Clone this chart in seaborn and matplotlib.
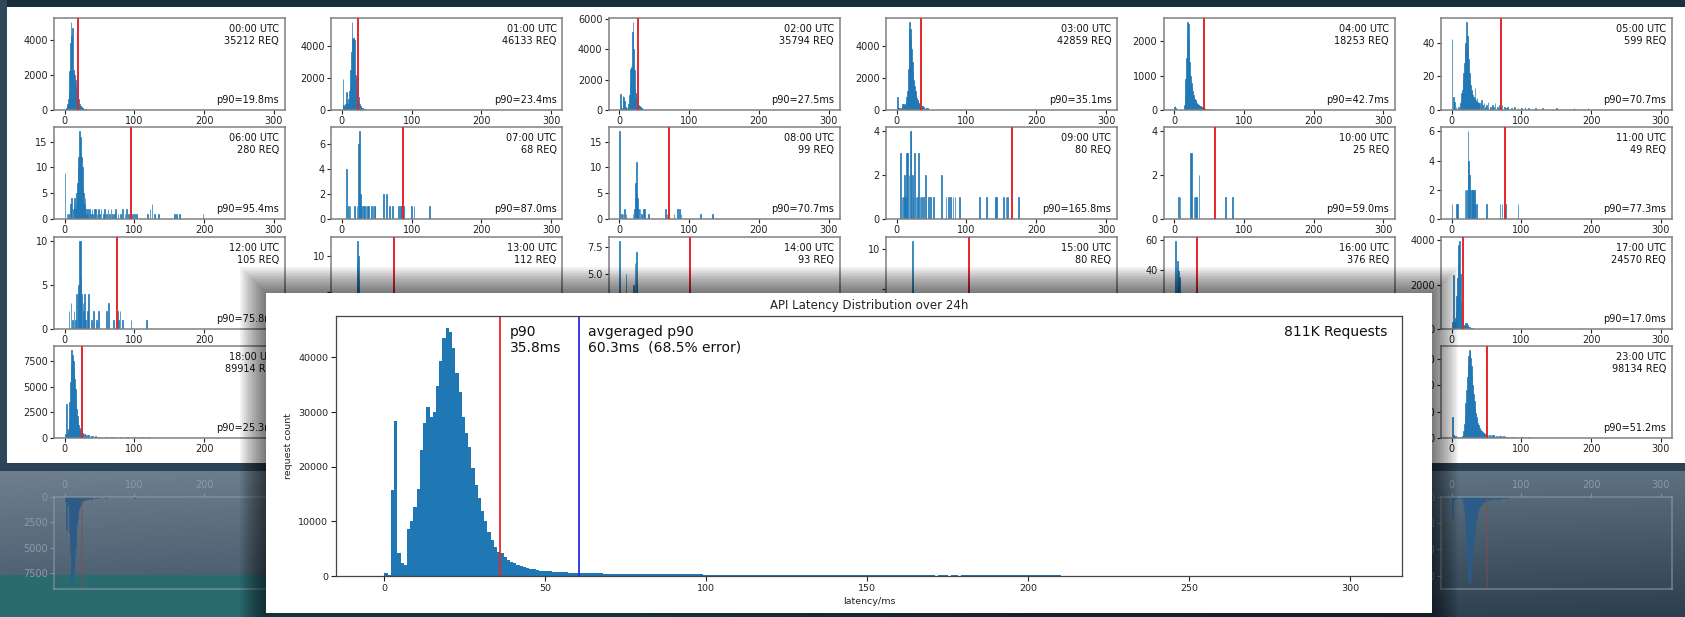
import numpy as np
import pandas as pd
import matplotlib
matplotlib.use("Agg")
import matplotlib.pyplot as plt
from matplotlib.patches import Rectangle
from matplotlib.ticker import MaxNLocator, FixedLocator
import seaborn as sns

# ---------------------------------------------------------------- data
# hourly latency histograms: latency bin (ms) and request count per bin
H00_MS = [2,3,4,5,6,7,8,9,10,11,12,13,14,15,16,17,18,19,20,21,22,23,24,25,26,27,28,30]
H00_N = [100,200,350,600,1000,2200,3800,5000,4200,4700,2300,2100,2000,1700,1300,1200,1400,1500,600,350,250,200,150,120,100,80,60,40]
H01_MS = [1,2,3,4,5,6,7,8,9,10,11,12,13,14,15,16,17,18,19,20,21,22,23,24,25,26,27,28,29,30,32]
H01_N = [1950,300,200,250,400,1100,500,400,700,1200,1500,2500,3600,5480,4500,4450,4550,4400,2200,2000,1500,1100,800,500,350,250,180,130,100,80,50]
H02_MS = [1,2,3,5,6,7,8,9,10,12,13,14,15,16,17,18,19,20,21,22,23,24,25,26,27,28,29,30,31,32,33]
H02_N = [1050,300,150,900,850,600,200,150,100,150,400,1000,1800,2700,2800,5100,5750,4000,2600,1500,1100,800,600,450,350,280,220,170,130,100,80]
H03_MS = [1,2,4,6,8,9,10,11,12,13,14,15,16,17,18,19,20,21,22,23,24,25,26,27,28,29,30,31,32,33,34,35,36,38,40,42,44]
H03_N = [800,150,100,150,350,400,300,250,350,500,800,1200,2600,5100,5500,5100,4500,3800,3000,2400,1900,1500,1200,950,750,650,550,450,400,350,300,260,230,200,150,120,100]
H04_MS = [0,1,2,14,15,16,17,18,19,20,21,22,23,24,25,26,27,28,29,30,31,32,33,34,35,36,37,38,39,40,42,44,46,50,54]
H04_N = [80,120,60,150,400,900,1500,2100,2550,2500,2000,1400,1000,800,650,550,450,380,320,280,240,200,180,160,140,120,110,100,90,80,60,50,40,30,20]
H05_MS = [0,2,3,4,6,10,12,13,14,15,16,17,18,19,20,21,22,23,24,25,26,27,28,29,30,31,32,33,34,35,36,37,38,39,40,42,44,46,48,50,52,55,58,60,62,65,68,70,72,75,78,80,85,90,95,100,105,110,120,130,150,175,195]
H05_N = [42,8,4,5,2,2,4,6,10,12,18,22,28,35,40,52,44,38,30,22,18,15,12,10,9,8,7,13,6,5,7,5,4,3,4,6,3,4,2,3,5,2,3,2,4,2,3,2,3,2,1,2,1,2,1,1,2,1,1,1,1,1,1]
H06_MS = [0,3,5,8,9,10,12,13,14,15,16,17,18,19,20,21,22,23,24,25,26,27,28,29,30,31,32,33,35,37,39,40,42,44,46,48,50,52,55,57,60,62,64,66,68,71,73,76,80,83,86,88,91,95,97,100,103,118,122,125,128,134,157,160,164,198]
H06_N = [9,1,1,3,2,4,2,3,4,2,3,5,7,10,12,17,16,13,12,10,6,5,3,4,2,1,2,1,2,1,2,1,2,2,1,2,1,2,1,2,1,2,1,2,1,1,2,1,1,2,1,2,1,2,1,1,1,1,2,3,1,1,1,1,1,1]
H07_MS = [6,9,11,18,21,23,25,26,27,28,30,32,34,36,38,42,44,46,47,59,63,68,72,81,83,85,87,88,99,103,125]
H07_N = [4,1,1,1,1,6,7,2,1,1,1,1,1,1,1,1,1,1,1,2,2,1,1,1,1,1,3,1,1,1,1]
H08_MS = [0,3,5,7,9,19,21,22,23,24,25,26,27,29,31,34,36,41,66,68,70,78,83,86,88,116,133]
H08_N = [17,1,1,2,1,1,2,4,7,11,5,4,2,2,1,2,2,1,2,1,2,1,2,2,1,1,1]
H09_MS = [5,7,9,11,12,14,15,17,19,20,22,23,25,27,29,31,33,35,38,41,45,48,52,64,70,74,77,80,83,90,118,128,141,143,153,156,158,174]
H09_N = [3,1,1,2,1,3,3,2,4,4,2,1,3,1,1,3,1,1,1,2,1,1,1,2,1,1,1,1,1,1,1,1,1,1,1,1,1,1]
H10_MS = [6,8,23,24,28,30,32,35,73,83]
H10_N = [1,1,3,3,1,1,1,2,1,1]
H11_MS = [0,7,8,19,21,23,24,25,26,28,30,31,32,33,35,50,69,72,75,77,95]
H11_N = [1,1,1,2,2,6,4,3,2,2,2,2,2,1,1,1,1,1,1,1,1]
H12_MS = [6,9,11,13,15,17,19,20,21,22,23,24,26,27,28,30,32,34,38,41,45,48,60,63,70,75,77,79,83,95,117]
H12_N = [2,3,1,2,1,4,4,5,10,10,6,4,3,2,4,1,2,4,1,2,1,2,2,3,1,2,1,2,1,1,1]
H13_MS = [15,18,21,22,23,25,28,35,50,74,90]
H13_N = [2,3,9,12,10,3,2,1,1,2,1]
H14_MS = [0,9,20,22,24,25,30,45,60,102,130]
H14_N = [8,5,4,6,7,4,2,1,1,2,1]
H15_MS = [10,22,23,30,45,80,103,140]
H15_N = [2,11,5,3,1,1,2,1]
H16_MS = [2,4,6,7,8,10,12,15,20,25,30,35,50,80]
H16_N = [59,46,39,35,20,15,12,10,8,6,5,3,2,1]
H17_MS = [1,2,3,4,5,6,7,8,9,10,11,12,13,14,15,16,17,18,19,20,21,22,23,24,25,26,28,30]
H17_N = [300,2450,400,300,500,800,1500,2300,3000,3800,3950,2500,1200,700,450,300,200,150,200,250,250,200,150,100,80,60,40,30]
H18_MS = [1,2,3,4,5,6,7,8,9,10,11,12,13,14,15,16,17,18,19,20,21,22,23,24,25,26,28,30,32,34,36,38,40,44,48,52,56,60,65,70,80,90,95,100,105,110,115,120,125,130,135]
H18_N = [400,3300,800,500,900,1800,3500,5500,7200,8590,8100,7500,6800,5800,4800,3700,2800,2200,1700,1300,1000,800,650,550,450,400,350,300,280,250,220,200,180,160,140,120,100,90,80,70,60,60,80,90,80,70,60,60,50,40,30]
H23_MS = [1,2,3,5,8,12,15,16,17,18,19,20,21,22,23,24,25,26,27,28,29,30,31,32,33,34,35,36,37,38,39,40,41,42,43,44,45,46,47,48,50,52,54,56,58,60,62,64,66,68,70,72,74,76,78,80,85,90,95,100,105,110,115,120,125]
H23_N = [2000,300,200,150,100,100,150,300,700,1300,2200,3300,4500,5800,7000,7800,8300,8100,7600,6800,5900,5000,4200,3500,2900,2400,2000,1700,1400,1200,1000,900,800,700,600,550,500,450,420,400,350,320,300,280,260,250,230,210,200,190,180,170,160,150,140,120,80,60,60,50,60,50,40,30,20]

HOURS = ["00:00","01:00","02:00","03:00","04:00","05:00","06:00","07:00","08:00","09:00",
         "10:00","11:00","12:00","13:00","14:00","15:00","16:00","17:00","18:00","23:00"]
HOUR_REQ = [35212,46133,35794,42859,18253,599,280,68,99,80,25,49,105,112,93,80,376,24570,89914,98134]
HOUR_P90 = [19.8,23.4,27.5,35.1,42.7,70.7,95.4,87.0,70.7,165.8,59.0,77.3,75.8,75.0,102.0,103.5,33.0,17.0,25.3,51.2]
HOUR_MS = [H00_MS,H01_MS,H02_MS,H03_MS,H04_MS,H05_MS,H06_MS,H07_MS,H08_MS,H09_MS,
           H10_MS,H11_MS,H12_MS,H13_MS,H14_MS,H15_MS,H16_MS,H17_MS,H18_MS,H23_MS]
HOUR_N = [H00_N,H01_N,H02_N,H03_N,H04_N,H05_N,H06_N,H07_N,H08_N,H09_N,
          H10_N,H11_N,H12_N,H13_N,H14_N,H15_N,H16_N,H17_N,H18_N,H23_N]
# panels whose lower part lies under the overlaid 24h chart
COVERED = ["13:00", "14:00", "15:00", "16:00"]

# aggregated 24h distribution: request count per 1 ms bin, starting at 0 ms
BIG_N = [
    600, 100, 15700, 28300, 4200, 2300, 2000, 8600, 10000, 12700,
    16000, 23000, 28000, 31000, 29100, 30000, 34800, 39300, 43500, 45300,
    44700, 41800, 37200, 33600, 29000, 26200, 23600, 19800, 16600, 14200,
    11800, 10000, 8000, 6500, 5300, 4400, 4200, 3500, 3000, 2600,
    2300, 2000, 1800, 1600, 1450, 1300, 1200, 1100, 1000, 950,
    900, 850, 800, 760, 720, 690, 660, 630, 600, 580,
    560, 540, 520, 500, 490, 480, 470, 460, 450, 440,
    430, 420, 410, 400, 395, 390, 385, 380, 375, 370,
    365, 360, 355, 350, 345, 340, 335, 330, 325, 320,
    315, 310, 305, 300, 300, 290, 290, 280, 280, 270,
    270, 260, 260, 250, 250, 240, 240, 230, 230, 220,
    220, 210, 210, 200, 200, 190, 190, 180, 140, 120,
    130, 110, 125, 115, 130, 120, 110, 125, 115, 120,
    110, 130, 115, 105, 120, 110, 125, 115, 110, 120,
    105, 115, 110, 120, 100, 115, 110, 105, 115, 100,
    110, 105, 120, 100, 110, 105, 100, 115, 100, 110,
    95, 105, 100, 110, 95, 105, 100, 95, 105, 95,
    100, 90, 100, 95, 105, 90, 100, 95, 90, 100,
    95, 150, 160, 140, 170, 150, 160, 145, 165, 150,
    155, 170, 145, 160, 150, 165, 140, 155, 160, 145,
    170, 150, 155, 140, 160, 150, 145, 155, 140, 150,
    80, 40, 60, 0, 50, 40, 0, 30, 60, 0,
    40, 0, 30, 50, 0, 40,
]
BIG_P90 = 35.8
AVG_P90 = 60.3
AVG_ERR = 68.5
TOTAL_LABEL = "811K Requests"

# ---------------------------------------------------------------- style / layout
W, H = 1685, 617
BLUE = "#1f77b4"
RED = "#e8262b"
BIN_RANGE = (0, 301)
XLIM = (-15.05, 316.05)
COL_X0 = [54, 331.4, 608.8, 886.2, 1163.6, 1441]
ROW_Y0 = [18, 127, 237, 346]
AX_W, AX_H = 231, 92
YTOP_OVERRIDE = {"10:00": 4.2}
PX0, PY0, PX1, PY1 = 266, 293, 1432, 613   # overlaid panel, in pixels

sns.set_theme(style="ticks")
plt.rcParams["font.family"] = ["DejaVu Sans"]

fig = plt.figure(figsize=(W / 100, H / 100), dpi=100)


def px_axes(x0, y0, x1, y1, z):
    ax = fig.add_axes([x0 / W, 1 - y1 / H, (x1 - x0) / W, (y1 - y0) / H])
    ax.set_zorder(z)
    return ax


def hist(ax, ms, n, color, lw, alpha=1.0):
    df = pd.DataFrame({"latency": ms, "count": n})
    sns.histplot(data=df, x="latency", weights="count", binwidth=1, binrange=BIN_RANGE,
                 ax=ax, color=color, alpha=alpha, linewidth=lw, edgecolor=color)
    for p in ax.patches:
        if p.get_height() == 0:
            p.set_visible(False)
    ax.set_xlabel("")
    ax.set_ylabel("")


# ---------------------------------------------------------------- background
bg = px_axes(0, 0, W, H, -10)
bg.set_xlim(0, W)
bg.set_ylim(H, 0)
bg.axis("off")

def c(h):
    return np.array([int(h[i:i + 2], 16) for i in (1, 3, 5)]) / 255.0

img = np.zeros((H, W, 3))
ty = np.linspace(0, 1, H)[:, None, None]
img[:] = c("#1b2e3c") * (1 - ty) + c("#2b4353") * ty
img[:, :7] = c("#2e4859")
ys = np.arange(H)[:, None, None]
xs = np.linspace(0, 1, W)[None, :, None]
t = np.clip((ys - 471) / (617 - 471), 0, 1)
top = c("#6e808e") * (1 - xs) + c("#5d7181") * xs
bot = c("#44576a") * (1 - xs) + c("#2a3e4d") * xs
refl = top * (1 - t) + bot * t
mask = (ys >= 471)
img = np.where(mask, refl, img)
img[463:471, :] = c("#2b4354")
xpx = np.arange(W)[None, :, None]
teal_m = np.clip((1000 - xpx) / 400, 0, 1) * (ys >= 575)
img = img * (1 - teal_m) + c("#2a6b70") * teal_m
bg.imshow(img, extent=(0, W, H, 0), aspect="auto", zorder=0, interpolation="bilinear")
bg.add_patch(Rectangle((7, 7), W - 7, 456, facecolor="white", edgecolor="none", zorder=1))

# ---------------------------------------------------------------- small multiples
for hour, ms, n, req, p90 in zip(HOURS, HOUR_MS, HOUR_N, HOUR_REQ, HOUR_P90):
    idx = int(hour[:2])
    row, col = idx // 6, idx % 6
    x0, y0 = COL_X0[col], ROW_Y0[row]
    ax = px_axes(x0, y0, x0 + AX_W, y0 + AX_H, 1)
    ax.set_facecolor("white")
    hist(ax, ms, n, BLUE, 0.5)
    ax.axvline(p90, color=RED, lw=1.4, zorder=3)
    ytop = YTOP_OVERRIDE.get(hour, max(n) * 1.05)
    ax.set_xlim(XLIM)
    ax.set_ylim(0, ytop)
    ax.xaxis.set_major_locator(FixedLocator([0, 100, 200, 300]))
    ax.yaxis.set_major_locator(MaxNLocator(nbins=4, steps=[1, 2, 2.5, 5, 10]))
    ax.tick_params(labelsize=7, length=3, width=0.8, pad=1.5, colors="#222222")
    for s in ax.spines.values():
        s.set_visible(True)
        s.set_color("#808080")
        s.set_linewidth(1.1)
    ax.text(0.975, 0.93, f"{hour} UTC\n{req} REQ", transform=ax.transAxes,
            ha="right", va="top", fontsize=7, linespacing=1.15, color="#111111")
    if hour in COVERED:
        # the lower part of these panels lies under the overlaid chart
        ax.tick_params(axis="x", labelbottom=False)
        y_cut = ytop * (1 - (PY0 - y0 - 4) / AX_H)
        for tk, loc in zip(ax.yaxis.get_major_ticks(), ax.yaxis.get_majorticklocs()):
            if loc < y_cut:
                tk.label1.set_visible(False)
    else:
        ax.text(0.975, 0.05, f"p90={p90:.1f}ms", transform=ax.transAxes,
                ha="right", va="bottom", fontsize=7, color="#111111")

# ---------------------------------------------------------------- reflection of the last row
MIRROR = 467.3
for hour in ["18:00", "23:00"]:
    i = HOURS.index(hour)
    col = int(hour[:2]) % 6
    x0 = COL_X0[col]
    y_top = 2 * MIRROR - (ROW_Y0[3] + AX_H)
    y_bot = 2 * MIRROR - ROW_Y0[3]
    rax = px_axes(x0, y_top, x0 + AX_W, y_bot, 0)
    rax.patch.set_alpha(0)
    hist(rax, HOUR_MS[i], HOUR_N[i], "#2c5b88", 0.5, alpha=0.7)
    rax.axvline(HOUR_P90[i], color="#8a4a4a", lw=1.2, alpha=0.5)
    rax.set_xlim(XLIM)
    rax.set_ylim(max(HOUR_N[i]) * 1.05, 0)
    rax.xaxis.tick_top()
    rax.xaxis.set_major_locator(FixedLocator([0, 100, 200, 300]))
    rax.yaxis.set_major_locator(MaxNLocator(nbins=4, steps=[1, 2, 2.5, 5, 10]))
    rax.tick_params(labelsize=7, length=3, width=0.6, pad=1.5, colors="#8d9aa5")
    for s in rax.spines.values():
        s.set_visible(True)
        s.set_color("#8d9aa5")
        s.set_alpha(0.6)

# ---------------------------------------------------------------- shadow + big panel
fg = px_axes(0, 0, W, H, 5)
fg.set_xlim(0, W)
fg.set_ylim(H, 0)
fg.axis("off")
for k in range(1, 14):
    d = 2 * k
    fg.add_patch(Rectangle((PX0 - d, PY0 - d), (PX1 - PX0) + 2 * d, (PY1 - PY0) + 2 * d,
                           facecolor="black", edgecolor="none", alpha=0.05, zorder=1))
fg.add_patch(Rectangle((PX0, PY0), PX1 - PX0, PY1 - PY0, facecolor="white",
                       edgecolor="none", zorder=2))

bax = px_axes(336, 316, 1402, 576, 6)
bax.set_facecolor("white")
big_ms = np.arange(len(BIG_N))
df_big = pd.DataFrame({"latency": big_ms, "count": BIG_N})
sns.histplot(data=df_big, x="latency", weights="count", binwidth=1, binrange=BIN_RANGE,
             ax=bax, color=BLUE, alpha=1.0, linewidth=0)
bax.axvline(BIG_P90, color=RED, lw=1.3)
bax.axvline(AVG_P90, color="#2a2af0", lw=1.3)
bax.set_xlim(XLIM)
bax.set_ylim(0, max(BIG_N) * 1.05)
bax.xaxis.set_major_locator(FixedLocator([0, 50, 100, 150, 200, 250, 300]))
bax.yaxis.set_major_locator(MaxNLocator(nbins=5))
bax.tick_params(labelsize=6.8, length=3.5, width=0.8, pad=2, colors="#222222")
for s in bax.spines.values():
    s.set_visible(True)
    s.set_color("#444444")
    s.set_linewidth(0.9)
bax.set_title("API Latency Distribution over 24h", fontsize=8.5, pad=5, color="#222222")
bax.set_xlabel("latency/ms", fontsize=6.8, labelpad=3, color="#222222")
bax.set_ylabel("request count", fontsize=6.8, labelpad=4, color="#222222")
bax.text(BIG_P90 + 3.2, 0.965, f"p90\n{BIG_P90:.1f}ms", transform=bax.get_xaxis_transform(),
         ha="left", va="top", fontsize=10, linespacing=1.15, color="#111111")
bax.text(AVG_P90 + 3.0, 0.965, f"avgeraged p90\n{AVG_P90:.1f}ms  ({AVG_ERR:.1f}% error)",
         transform=bax.get_xaxis_transform(), ha="left", va="top", fontsize=10,
         linespacing=1.15, color="#111111")
bax.text(0.986, 0.965, TOTAL_LABEL, transform=bax.transAxes, ha="right", va="top",
         fontsize=10, color="#111111")

fig.savefig("out.png", dpi=100)
